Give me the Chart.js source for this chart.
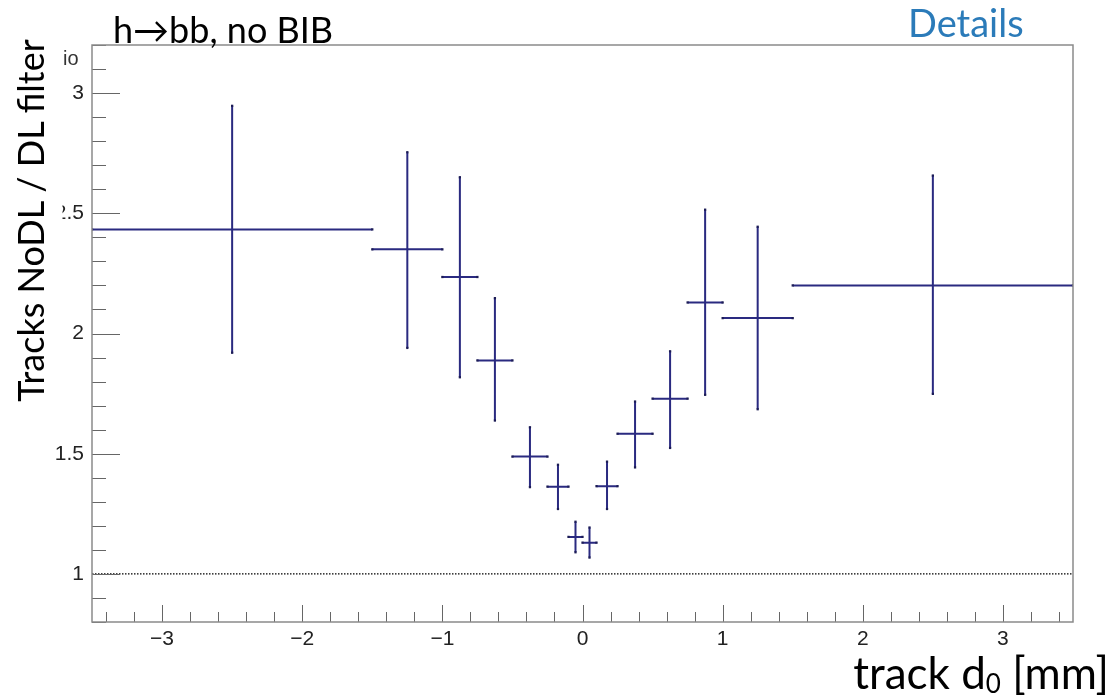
<!DOCTYPE html>
<html><head><meta charset="utf-8">
<script src="https://cdn.jsdelivr.net/npm/chart.js@4.4.1/dist/chart.umd.min.js"></script>
<style>
html,body{margin:0;padding:0;background:#fff;}
#wrap{position:relative;width:1114px;height:700px;overflow:hidden;background:#fff;}
#c{position:absolute;left:0;top:0;}
.ov{position:absolute;white-space:nowrap;font-family:Lato,"Noto Sans",sans-serif;line-height:1;color:#000;}
#io{left:63px;top:48px;font-family:"Liberation Sans",Arial,sans-serif;font-size:20px;color:#333;}
#ytitle{left:-163.5px;top:194.5px;width:400px;height:36px;padding-bottom:15px;font-size:36px;text-align:center;background:#fff;transform:rotate(-90deg);transform-origin:center center;}
#title{left:113px;top:11px;font-size:36px;}
#details{left:908px;top:3px;font-size:38px;color:#2b7bb9;}
#xtitle{right:5px;top:650px;font-size:44px;}
#xtitle sub{font-size:26px;vertical-align:-4px;line-height:1;}
</style></head><body>
<div id="wrap">
<canvas id="c" width="1114" height="700"></canvas>
<div class="ov" id="io">io</div>
<div class="ov" id="ytitle">Tracks NoDL / DL filter</div>
<div class="ov" id="title">h→bb, no BIB</div>
<div class="ov" id="details">Details</div>
<div class="ov" id="xtitle">track d<sub>0</sub> [mm]</div>
</div>
<script>
// ---- data ----
const binLo     = [-3.5, -1.5, -1.0, -0.75, -0.5, -0.25, -0.1, 0.0, 0.1, 0.25, 0.5, 0.75, 1.0, 1.5];
const binHi     = [-1.5, -1.0, -0.75, -0.5, -0.25, -0.1, 0.0, 0.1, 0.25, 0.5, 0.75, 1.0, 1.5, 3.5];
const binCenter = [-2.5, -1.25, -0.875, -0.625, -0.375, -0.175, -0.05, 0.05, 0.175, 0.375, 0.625, 0.875, 1.25, 2.5];
const ratio     = [2.433, 2.350, 2.235, 1.888, 1.488, 1.363, 1.154, 1.130, 1.365, 1.583, 1.729, 2.129, 2.064, 2.200];
const errHigh   = [2.947, 2.754, 2.650, 2.147, 1.610, 1.454, 1.217, 1.193, 1.467, 1.717, 1.926, 2.515, 2.444, 2.657];
const errLow    = [1.920, 1.940, 1.818, 1.638, 1.361, 1.270, 1.090, 1.068, 1.270, 1.443, 1.524, 1.745, 1.685, 1.749];
const xTickValues = [-3, -2, -1, 0, 1, 2, 3];
const yTickValues = [1, 1.5, 2, 2.5, 3];
const refLine = 1;
const xRange = [-3.5, 3.5];
const yRange = [0.8, 3.2];

// ---- build datasets ----
const hBars = [], vBars = [];
for (let i = 0; i < ratio.length; i++) {
  hBars.push({x: binLo[i], y: ratio[i]}, {x: binHi[i], y: ratio[i]}, {x: binHi[i], y: null});
  vBars.push({x: binCenter[i], y: errLow[i]}, {x: binCenter[i], y: errHigh[i]}, {x: binCenter[i], y: null});
}
const barColor = '#2a2a80';

const frameTicks = {
  id: 'frameTicks',
  afterDatasetsDraw(chart) {
    const {ctx, chartArea: a, scales: {x, y}} = chart;
    ctx.save();
    ctx.strokeStyle = '#666';
    ctx.lineWidth = 1;
    for (let k = 8; k <= 32; k++) {
      const v = k / 10;
      const py = Math.round(y.getPixelForValue(v)) + 0.5;
      const len = (k % 5 === 0) ? 28 : 14;
      ctx.beginPath(); ctx.moveTo(a.left, py); ctx.lineTo(a.left + len, py); ctx.stroke();
    }
    for (let k = -17; k <= 17; k++) {
      const v = k / 5;
      const px = Math.round(x.getPixelForValue(v)) + 0.5;
      const len = (k % 5 === 0) ? 17 : 10;
      ctx.beginPath(); ctx.moveTo(px, a.bottom); ctx.lineTo(px, a.bottom - len); ctx.stroke();
    }
    ctx.strokeStyle = '#8a8a8a';
    ctx.lineWidth = 1.5;
    ctx.strokeRect(a.left, a.top, a.right - a.left, a.bottom - a.top);
    ctx.restore();
  }
};

const tickFont = {family: '"Liberation Sans", Arial, sans-serif', size: 21};

new Chart(document.getElementById('c'), {
  type: 'scatter',
  data: {
    datasets: [
      {
        label: 'ref', data: [{x: xRange[0], y: refLine}, {x: xRange[1], y: refLine}],
        showLine: true, borderColor: '#000', borderWidth: 1.2, borderDash: [1.5, 1.5],
        pointRadius: 0, order: 3
      },
      {
        label: 'xerr', data: hBars, showLine: true, spanGaps: false,
        borderColor: barColor, borderWidth: 2,
        pointStyle: 'rect', pointRadius: 1.6, pointBackgroundColor: '#1c1c55', pointBorderWidth: 0,
        order: 2
      },
      {
        label: 'yerr', data: vBars, showLine: true, spanGaps: false,
        borderColor: barColor, borderWidth: 2,
        pointStyle: 'rect', pointRadius: 1.6, pointBackgroundColor: '#1c1c55', pointBorderWidth: 0,
        order: 1
      }
    ]
  },
  options: {
    responsive: false,
    animation: false,
    events: [],
    layout: {padding: {top: 45, right: 41, left: 0, bottom: 0}},
    plugins: {legend: {display: false}, tooltip: {enabled: false}},
    scales: {
      x: {
        type: 'linear', min: xRange[0], max: xRange[1],
        afterFit(s) { s.height = 78; },
        afterBuildTicks(s) { s.ticks = xTickValues.map(v => ({value: v})); },
        grid: {display: false, drawTicks: false},
        border: {display: false},
        ticks: {
          padding: 5, color: '#222', font: tickFont, maxRotation: 0, autoSkip: false,
          callback: v => (v < 0 ? '\u2212' + Math.abs(v) : String(v))
        }
      },
      y: {
        type: 'linear', min: yRange[0], max: yRange[1],
        afterFit(s) { s.width = 92; },
        afterBuildTicks(s) { s.ticks = yTickValues.map(v => ({value: v})); },
        grid: {display: false, drawTicks: false},
        border: {display: false},
        ticks: {padding: 8, color: '#222', font: tickFont, autoSkip: false, callback: v => String(v)}
      }
    }
  },
  plugins: [frameTicks]
});
</script>
</body></html>
